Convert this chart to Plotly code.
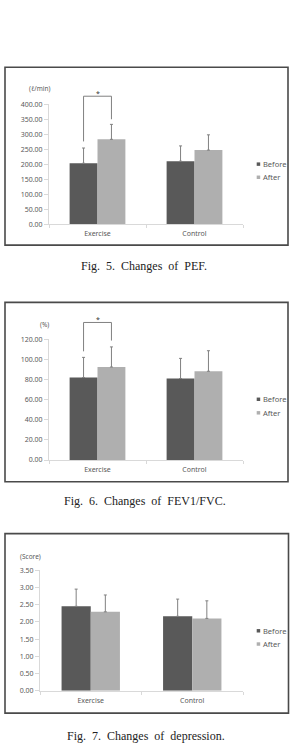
import plotly.graph_objects as go

W, H = 290, 754

categories = ["Exercise", "Control"]
series_names = ["Before", "After"]

pef_before = [203, 210]
pef_after = [283, 247]
pef_before_sd = [51, 51]
pef_after_sd = [50, 51]

fev_before = [82.0, 81.0]
fev_after = [92.4, 88.2]
fev_before_sd = [20.0, 20.0]
fev_after_sd = [20.0, 20.4]

dep_before = [2.45, 2.16]
dep_after = [2.29, 2.10]
dep_before_sd = [0.50, 0.50]
dep_after_sd = [0.49, 0.51]

# significance brackets: (top, left leg bottom, right leg bottom, star level)
pef_sig = (427, 276, 350, 436)
fev_sig = (136.7, 108, 118.7, 139.5)

panels = [
    dict(before=pef_before, after=pef_after, bsd=pef_before_sd, asd=pef_after_sd,
         ymax=400, dtick=50, unit="(ℓ/min)", caption="Fig.  5.  Changes  of  PEF.",
         sig=pef_sig),
    dict(before=fev_before, after=fev_after, bsd=fev_before_sd, asd=fev_after_sd,
         ymax=120, dtick=20, unit="(%)", caption="Fig.  6.  Changes  of  FEV1/FVC.",
         sig=fev_sig),
    dict(before=dep_before, after=dep_after, bsd=dep_before_sd, asd=dep_after_sd,
         ymax=3.5, dtick=0.5, unit="(Score)", caption="Fig.  7.  Changes  of  depression.",
         sig=None),
]

# layout geometry in pixels
geo = [
    dict(x=(49, 243), y=(100.5, 221.7), box=(5, 63, 288, 243), unit_xy=(40, 85),
         leg_y=(161, 174.3), cap_y=264, cap_x=144),
    dict(x=(49, 243), y=(338.3, 460.5), box=(5, 301, 288, 482.5), unit_xy=(44, 323.5),
         leg_y=(399, 412.7), cap_y=502, cap_x=145),
    dict(x=(40, 243), y=(572, 694), box=(5, 535, 288.5, 716.7), unit_xy=(30, 558),
         leg_y=(633.3, 646.7), cap_y=740, cap_x=146),
]

COL_BEFORE = "#595959"
COL_AFTER = "#afafaf"
ERR_COL = "#808080"
AXIS_COL = "#d9d9d9"
TXT_COL = "#595959"
BARGAP = 0.425

def px(x):
    return x / W

def py(y):
    return 1 - y / H

fig = go.Figure()
shapes = []
annotations = []

for i, (p, g) in enumerate(zip(panels, geo), start=1):
    xa = "x" if i == 1 else f"x{i}"
    ya = "y" if i == 1 else f"y{i}"
    for name, vals, sd, col in [("Before", p["before"], p["bsd"], COL_BEFORE),
                                ("After", p["after"], p["asd"], COL_AFTER)]:
        fig.add_trace(go.Bar(
            x=categories, y=vals, name=name, marker=dict(color=col, line=dict(width=0)),
            xaxis=xa, yaxis=ya, showlegend=False,
            error_y=dict(type="data", symmetric=False, array=sd, arrayminus=[0] * len(sd),
                         color=ERR_COL, thickness=1, width=1.5),
        ))
    xkey = "xaxis" if i == 1 else f"xaxis{i}"
    ykey = "yaxis" if i == 1 else f"yaxis{i}"
    fig.update_layout(**{
        xkey: dict(domain=[px(g["x"][0]), px(g["x"][1])], anchor=ya,
                   showline=True, linecolor=AXIS_COL, linewidth=1,
                   ticks="outside", tickson="boundaries", ticklen=3, tickcolor=AXIS_COL,
                   ticklabelstandoff=3,
                   tickfont=dict(family="Noto Sans", size=7, color=TXT_COL),
                   showgrid=False, zeroline=False, fixedrange=True),
        ykey: dict(domain=[py(g["y"][1]), py(g["y"][0])], anchor=xa,
                   range=[0, p["ymax"]], dtick=p["dtick"], tick0=0, tickformat=".2f",
                   showline=True, linecolor=AXIS_COL, linewidth=1,
                   ticks="outside", ticklen=4, tickcolor=AXIS_COL,
                   tickfont=dict(family="Noto Sans", size=7, color=TXT_COL),
                   showgrid=False, zeroline=False, fixedrange=True),
    })
    # frame box
    bx0, by0, bx1, by1 = g["box"]
    shapes.append(dict(type="rect", xref="paper", yref="paper",
                       x0=px(bx0), x1=px(bx1), y0=py(by1), y1=py(by0),
                       line=dict(color="#4a4a4a", width=1.6), fillcolor="rgba(0,0,0,0)"))
    # unit label
    annotations.append(dict(xref="paper", yref="paper", x=px(g["unit_xy"][0]), y=py(g["unit_xy"][1]),
                            text=p["unit"], showarrow=False, xanchor="center", yanchor="middle",
                            font=dict(family="Noto Sans", size=6.5, color=TXT_COL)))
    # legend (manual)
    for (name, col), ly in zip([("Before", COL_BEFORE), ("After", COL_AFTER)], g["leg_y"]):
        shapes.append(dict(type="rect", xref="paper", yref="paper",
                           x0=px(256.7), x1=px(260.2), y0=py(ly + 1.8), y1=py(ly - 1.7),
                           line=dict(width=0), fillcolor=col))
        annotations.append(dict(xref="paper", yref="paper", x=px(260.8), y=py(ly),
                                text=name, showarrow=False, xanchor="left", yanchor="middle",
                                font=dict(family="Noto Sans", size=7.5, color=TXT_COL)))
    # caption
    annotations.append(dict(xref="paper", yref="paper", x=px(g["cap_x"]), y=py(g["cap_y"]),
                            text=p["caption"], showarrow=False, xanchor="center", yanchor="middle",
                            font=dict(family="Liberation Serif", size=12, color="#222222")))
    # significance bracket
    if p["sig"] is not None:
        top, lb, rb, star = p["sig"]
        n = len(categories)
        off = (1 - BARGAP) / 4
        xl = (0 + 0.5 - off) / n
        xr = (0 + 0.5 + off) / n
        ymax = p["ymax"]
        xd = f"{xa} domain"
        yd = f"{ya} domain"
        for (x0, y0, x1, y1) in [(xl, lb, xl, top), (xl, top, xr, top), (xr, top, xr, rb)]:
            shapes.append(dict(type="line", xref=xd, yref=yd,
                               x0=x0, y0=y0 / ymax, x1=x1, y1=y1 / ymax,
                               line=dict(color=ERR_COL, width=1)))
        annotations.append(dict(xref=xd, yref=yd, x=(xl + xr) / 2, y=star / ymax,
                                text="*", showarrow=False, xanchor="center", yanchor="middle",
                                font=dict(family="Noto Sans", size=7, color="#333333")))

fig.update_layout(
    width=W, height=H, margin=dict(l=0, r=0, t=0, b=0),
    paper_bgcolor="white", plot_bgcolor="white",
    barmode="group", bargap=BARGAP, bargroupgap=0,
    showlegend=False, shapes=shapes, annotations=annotations,
)

fig.write_html("out.html", config={"displayModeBar": False})
